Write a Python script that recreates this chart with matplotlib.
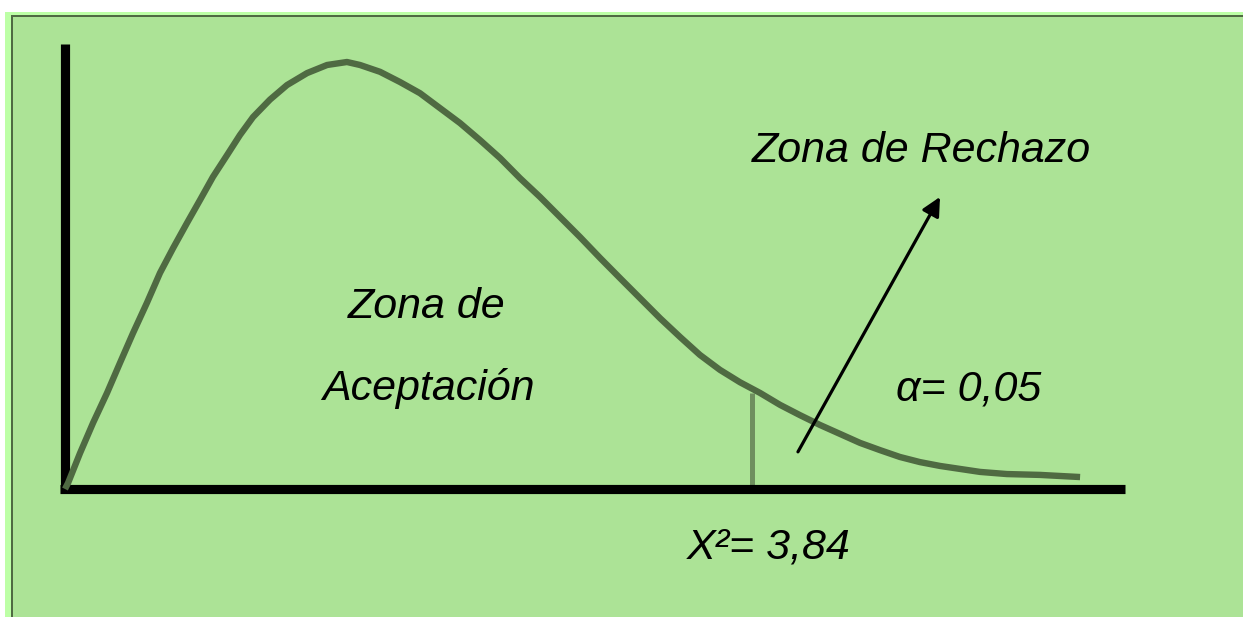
import matplotlib
matplotlib.use('Agg')
import matplotlib.pyplot as plt
from matplotlib.patches import Rectangle

# curve (x in chi-square units, y relative to the peak)
curve_x = [0, 0.017, 0.084, 0.157, 0.235, 0.307, 0.380, 0.458, 0.531, 0.604,
           0.682, 0.755, 0.827, 0.906, 0.978, 1.051, 1.146, 1.241, 1.353, 1.465,
           1.576, 1.649, 1.761, 1.873, 1.984, 2.096, 2.208, 2.320, 2.432, 2.543,
           2.655, 2.767, 2.879, 2.991, 3.102, 3.214, 3.326, 3.438, 3.549, 3.661,
           3.773, 3.885, 3.997, 4.108, 4.220, 4.332, 4.444, 4.556, 4.667, 4.779,
           4.891, 5.003, 5.115, 5.265, 5.450, 5.674]
curve_y = [0, 0.014, 0.084, 0.155, 0.225, 0.295, 0.365, 0.436, 0.506, 0.564,
           0.623, 0.677, 0.731, 0.782, 0.829, 0.871, 0.912, 0.946, 0.974, 0.993,
           1.000, 0.993, 0.977, 0.953, 0.927, 0.892, 0.857, 0.817, 0.775, 0.728,
           0.684, 0.637, 0.590, 0.541, 0.494, 0.447, 0.400, 0.356, 0.314, 0.279,
           0.250, 0.225, 0.197, 0.173, 0.150, 0.129, 0.108, 0.091, 0.075, 0.063,
           0.054, 0.047, 0.040, 0.035, 0.033, 0.028]

critical = 3.84
critical_y = 0.225
alpha_label = 'α= 0,05'
crit_label = 'X²= 3,84'
arrow_tail = (4.097, 0.087)
arrow_tip = (4.891, 0.684)

plt.rcParams['font.family'] = ['Liberation Sans', 'DejaVu Sans']

fig = plt.figure(figsize=(12.43, 6.17), dpi=100, facecolor='#ace396')

# frame: only the top and left edges show in the picture
bg = fig.add_axes([0, 0, 1, 1], zorder=-1)
bg.set_xlim(0, 1243)
bg.set_ylim(617, 0)
bg.axis('off')
for x0, y0, col in [(0, 0, 'white'), (5, 12, '#bdffa6'), (11, 15, '#4f6a42')]:
    bg.add_patch(Rectangle((x0, y0), 1400, {'white': 12, '#bdffa6': 3, '#4f6a42': 2.3}[col],
                           color=col, lw=0, clip_on=False))
    bg.add_patch(Rectangle((x0, y0), {'white': 5, '#bdffa6': 6, '#4f6a42': 2.3}[col], 800,
                           color=col, lw=0, clip_on=False))

ax = fig.add_axes([65 / 1243, 128 / 617, 6.2 * 178.9 / 1243, 1.1 * 427 / 617])
ax.set_xlim(0, 6.2)
ax.set_ylim(0, 1.1)
ax.axis('off')
ax.patch.set_alpha(0)

# critical value line
ax.plot([critical, critical], [0, critical_y], color='#6f8f5f', lw=3.6,
        solid_capstyle='butt', clip_on=False, zorder=2)

# axes
ax.plot([-0.028, 5.925], [0, 0], color='black', lw=6.6, solid_capstyle='butt', clip_on=False, zorder=3)
ax.plot([0, 0], [-0.01, 1.042], color='black', lw=6.6, solid_capstyle='butt', clip_on=False, zorder=3)

# density curve
ax.plot(curve_x, curve_y, color='#4f6a42', lw=4.6, solid_capstyle='butt',
        solid_joinstyle='round', clip_on=False, zorder=4)

ax.annotate('', xy=arrow_tip, xytext=arrow_tail,
            arrowprops=dict(arrowstyle='-|>', lw=2.3, color='black',
                            mutation_scale=28, shrinkA=0, shrinkB=0), zorder=5)

txt = dict(fontsize=31, style='italic', color='black', ha='center', va='baseline')
ax.text(4.785, 0.766, 'Zona de Rechazo', **txt)
ax.text(2.024, 0.400, 'Zona de', **txt)
ax.text(2.03, 0.208, 'Aceptación', **txt)
ax.text(5.05, 0.208, alpha_label, **txt)
ax.text(3.935, -0.162, crit_label, **txt)

fig.savefig('out.png', dpi=100, facecolor=fig.get_facecolor())
